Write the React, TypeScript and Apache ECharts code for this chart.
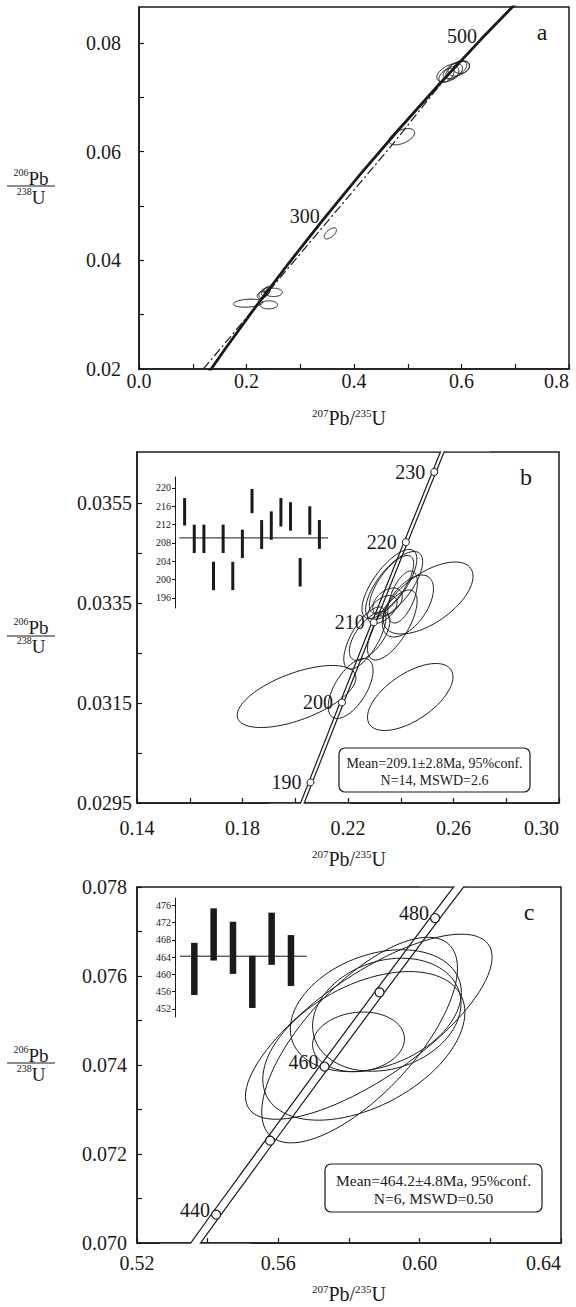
import React, { useEffect, useRef } from "react";
import * as echarts from "echarts";

const SERIF = "Liberation Serif, Times New Roman, Times, serif";
const INK = "#1a1a1a";

// ---------------- Panel a ----------------
const concA_x = [0.103498, 0.159197, 0.217708, 0.279171, 0.343739, 0.411563, 0.48281, 0.557656, 0.63628, 0.718871];
const concA_y = [0.015633, 0.023542, 0.031511, 0.039543, 0.047637, 0.055795, 0.064015, 0.0723, 0.08065, 0.089064];
const refA_x = [0.1196, 0.34, 0.469, 0.57, 0.695];
const refA_y = [0.02, 0.0459, 0.061, 0.0735, 0.0868];
const agesA = ["300", "500"];
const agesA_x = [0.343739, 0.63628];
const agesA_y = [0.047637, 0.08065];
// [x, y, half-width, half-height, correlation]
const ellA = [
  [0.489, 0.06274, 0.0239, 0.0015, 0.5],
  [0.356, 0.04495, 0.0113, 0.00102, 0.6],
  [0.2031, 0.03211, 0.0273, 0.00074, 0.2],
  [0.2414, 0.0318, 0.0165, 0.00074, 0.0],
  [0.2503, 0.0341, 0.0165, 0.00077, 0.0],
  [0.233, 0.034, 0.01, 0.0009, 0.5],
  [0.236, 0.0342, 0.008, 0.0008, 0.4],
  [0.229, 0.0336, 0.009, 0.0007, 0.3],
  [0.238, 0.0345, 0.006, 0.0007, 0.5],
  [0.578, 0.0745, 0.024, 0.0017, 0.5],
  [0.588, 0.075, 0.022, 0.0016, 0.6],
  [0.595, 0.0753, 0.02, 0.0014, 0.4],
  [0.572, 0.074, 0.014, 0.0013, 0.5],
  [0.583, 0.0745, 0.012, 0.0012, 0.3],
  [0.6, 0.0755, 0.015, 0.0011, 0.2],
];
const xTicksA = [0, 0.2, 0.4, 0.6, 0.8];
const xMinorA = [0.1, 0.3, 0.5, 0.7];
const yTicksA = [0.02, 0.04, 0.06, 0.08];
const yMinorA = [0.03, 0.05, 0.07];

// ---------------- Panel b ----------------
const concB_x = [0.193957, 0.205774, 0.21771, 0.229759, 0.24193, 0.254222, 0.266635];
const concB_y = [0.028316, 0.029912, 0.031511, 0.033113, 0.034717, 0.036323, 0.037932];
const markB_age = ["190", "200", "210", "220", "230"];
const markB_x = [0.205774, 0.21771, 0.229759, 0.24193, 0.2527];
const markB_y = [0.029912, 0.031511, 0.033113, 0.034717, 0.03612];
const ellB = [
  [0.2005, 0.03163, 0.0225, 0.00062, 0.6],
  [0.2436, 0.03162, 0.0162, 0.00067, 0.6],
  [0.221, 0.03179, 0.0085, 0.0006, 0.6],
  [0.2504, 0.0336, 0.017, 0.00072, 0.6],
  [0.2357, 0.03388, 0.0104, 0.00069, 0.72],
  [0.2375, 0.03385, 0.0108, 0.00068, 0.7],
  [0.2365, 0.03387, 0.0084, 0.00058, 0.72],
  [0.2264, 0.0328, 0.008, 0.00062, 0.68],
  [0.2282, 0.03284, 0.0077, 0.00049, 0.62],
  [0.2368, 0.03306, 0.0094, 0.0007, 0.68],
  [0.2427, 0.03344, 0.0097, 0.00062, 0.55],
  [0.233, 0.03337, 0.0056, 0.00028, 0.5],
  [0.235, 0.03352, 0.0056, 0.00028, 0.4],
  [0.2407, 0.03362, 0.0056, 0.00052, 0.55],
];
const xTicksB = [0.14, 0.18, 0.22, 0.26, 0.3];
const xMinorB = [0.16, 0.2, 0.24, 0.28];
const yTicksB = [0.0295, 0.0315, 0.0335, 0.0355];
const yMinorB = [0.0305, 0.0325, 0.0345];
const barsB_lo = [211.8, 205.8, 205.8, 197.7, 205.8, 197.7, 204.7, 214.5, 206.7, 208.7, 211.6, 210.7, 198.5, 209.8, 206.7];
const barsB_hi = [217.8, 212.0, 212.0, 203.9, 212.0, 203.9, 210.9, 219.8, 213.0, 214.9, 217.8, 216.9, 204.7, 216.0, 213.0];
const meanB = 209.1;
const insetTicksB = [196, 200, 204, 208, 212, 216, 220];
const textB = ["Mean=209.1±2.8Ma, 95%conf.", "N=14, MSWD=2.6"];

// ---------------- Panel c ----------------
const concC_x = [0.512308, 0.542392, 0.557656, 0.573074, 0.588642, 0.604365, 0.63628];
const concC_y = [0.067322, 0.070638, 0.0723, 0.073965, 0.075633, 0.077302, 0.08065];
const markC_age = ["440", "", "460", "", "480"];
const markC_x = [0.542392, 0.557656, 0.573074, 0.588642, 0.604365];
const markC_y = [0.070638, 0.0723, 0.073965, 0.075633, 0.077302];
const ellC = [
  [0.5856, 0.07486, 0.0349, 0.00208, 0.75],
  [0.583, 0.07456, 0.0277, 0.00231, 0.7],
  [0.5842, 0.07443, 0.0286, 0.00167, 0.45],
  [0.5876, 0.07522, 0.0242, 0.00137, 0.3],
  [0.5907, 0.07513, 0.021, 0.00127, 0.2],
  [0.5827, 0.07452, 0.013, 0.00067, 0.1],
];
const xTicksC = [0.52, 0.56, 0.6, 0.64];
const xMinorC = [0.54, 0.58, 0.62];
const yTicksC = [0.07, 0.072, 0.074, 0.076, 0.078];
const yMinorC = [0.071, 0.073, 0.075, 0.077];
const barsC_lo = [455.2, 463.2, 460.1, 452.2, 462.2, 457.3];
const barsC_hi = [467.3, 475.3, 472.2, 464.3, 474.3, 469.1];
const meanC = 464.2;
const insetTicksC = [452, 456, 460, 464, 468, 472, 476];
const textC = ["Mean=464.2±4.8Ma, 95%conf.", "N=6, MSWD=0.50"];

// ---------------- helpers ----------------
const zip = (xs: number[], ys: number[]) => xs.map((x, i) => [x, ys[i]]);

function renderEllipse(_p: any, api: any) {
  const cx = api.value(0), cy = api.value(1), sx = api.value(2), sy = api.value(3), r = api.value(4);
  const k = Math.sqrt(Math.max(0, 1 - r * r));
  const pts: number[][] = [];
  for (let i = 0; i < 96; i++) {
    const t = (i / 96) * Math.PI * 2;
    pts.push(api.coord([cx + sx * Math.cos(t), cy + sy * (r * Math.cos(t) + k * Math.sin(t))]));
  }
  return { type: "polygon", shape: { points: pts }, style: { fill: "none", stroke: INK, lineWidth: 1 } };
}

const barRenderer = (w: number) => (_p: any, api: any) => {
  const i = api.value(0), lo = api.value(1), hi = api.value(2);
  const top = api.coord([i, hi]);
  const bot = api.coord([i, lo]);
  return { type: "rect", shape: { x: top[0] - w / 2, y: top[1], width: w, height: bot[1] - top[1] }, style: { fill: INK } };
};

function mainAxis(gridIndex: number, min: number, max: number, labels: number[], minors: number[], dec: number, margin: number, isY: boolean) {
  return {
    type: "value",
    gridIndex,
    min,
    max,
    position: isY ? "left" : "bottom",
    axisLine: { show: true, onZero: false, lineStyle: { color: INK, width: 1.5 } },
    axisTick: {
      show: true,
      inside: true,
      length: 5,
      customValues: [...labels, ...minors].sort((a, b) => a - b),
      lineStyle: { color: INK, width: 1.2 },
    },
    axisLabel: {
      show: true,
      customValues: labels,
      margin,
      color: INK,
      fontFamily: SERIF,
      fontSize: 20,
      alignMaxLabel: isY ? undefined : "right",
      formatter: (v: number) => Number(v).toFixed(dec),
    },
    splitLine: { show: false },
  };
}

function insetY(gridIndex: number, min: number, max: number, labels: number[]) {
  return {
    type: "value",
    gridIndex,
    min,
    max,
    position: "left",
    axisLine: { show: true, onZero: false, lineStyle: { color: INK, width: 1 } },
    axisTick: { show: true, inside: false, length: 3, customValues: labels, lineStyle: { color: INK, width: 1 } },
    axisLabel: { show: true, customValues: labels, margin: 4, color: INK, fontFamily: SERIF, fontSize: 10 },
    splitLine: { show: false },
  };
}

const hiddenX = (gridIndex: number, min: number, max: number) => ({ type: "value", gridIndex, min, max, show: false });

function richText(x: number, y: number, text: string, main: number, sup: number) {
  return {
    type: "text",
    x,
    y,
    z: 50,
    style: {
      text,
      align: "center",
      verticalAlign: "middle",
      textAlign: "center",
      textVerticalAlign: "middle",
      fill: INK,
      fontFamily: SERIF,
      fontSize: main,
      rich: {
        s: { fontSize: sup, fontFamily: SERIF, fill: INK, color: INK, verticalAlign: "top", textVerticalAlign: "top" },
        n: { fontSize: main, fontFamily: SERIF, fill: INK, color: INK, lineHeight: main + 2 },
      },
    },
  };
}

function plainText(x: number, y: number, text: string, size: number) {
  return {
    type: "text",
    x,
    y,
    z: 60,
    style: {
      text,
      align: "center",
      verticalAlign: "middle",
      textAlign: "center",
      textVerticalAlign: "middle",
      fill: INK,
      fontFamily: SERIF,
      fontSize: size,
    },
  };
}

function fraction(cx: number, yNum: number, yLine: number, yDen: number) {
  return [
    richText(cx, yNum, "{s|206}{n|Pb}", 19, 10),
    { type: "line", z: 50, shape: { x1: cx - 24, y1: yLine, x2: cx + 24, y2: yLine }, style: { stroke: INK, lineWidth: 1.2 } },
    richText(cx, yDen, "{s|238}{n|U}", 19, 10),
  ];
}

function statBox(x: number, y: number, w: number, h: number, lines: string[], size: number, l1: number, l2: number) {
  return [
    { type: "rect", z: 55, shape: { x, y, width: w, height: h, r: 6 }, style: { fill: "#fff", stroke: INK, lineWidth: 1.2 } },
    plainText(x + w / 2, l1, lines[0], size),
    plainText(x + w / 2, l2, lines[1], size),
  ];
}

// white masks just outside plot frames, hiding the thick band ends
function mask(x: number, y: number, w: number, h: number) {
  return { type: "rect", z: 40, shape: { x, y, width: w, height: h }, style: { fill: "#fff" } };
}

const gridBase = { show: true, borderColor: INK, borderWidth: 1.5, backgroundColor: "transparent", containLabel: false, outerBoundsMode: "none" };

const labelStyle = { color: INK, opacity: 1, fontFamily: SERIF, fontSize: 20, textBorderWidth: 0, textBorderColor: "transparent", textShadowBlur: 0 };

function buildOption() {
  const series: any[] = [];
  // ---- a ----
  series.push({ type: "line", xAxisIndex: 0, yAxisIndex: 0, data: zip(concA_x, concA_y), symbol: "none", lineStyle: { color: INK, width: 2.8 }, z: 3, silent: true, clip: true });
  series.push({ type: "line", xAxisIndex: 0, yAxisIndex: 0, data: zip(refA_x, refA_y), symbol: "none", lineStyle: { color: INK, width: 1.2, type: [9, 3, 2, 3] }, z: 3, silent: true, clip: true });
  series.push({ type: "custom", xAxisIndex: 0, yAxisIndex: 0, data: ellA, renderItem: renderEllipse, z: 4, silent: true });
  series.push({
    type: "scatter", xAxisIndex: 0, yAxisIndex: 0, symbolSize: 0, z: 5, silent: true,
    itemStyle: { opacity: 1, color: INK },
    data: agesA.map((a, i) => ({ name: a, value: [agesA_x[i], agesA_y[i]] })),
    label: { show: true, position: "left", distance: 4, offset: [0, -3], formatter: "{b}", ...labelStyle },
  });
  // ---- b ----
  series.push({ type: "line", xAxisIndex: 1, yAxisIndex: 1, data: zip(concB_x, concB_y), symbol: "none", lineStyle: { color: INK, width: 4.6 }, z: 2, silent: true, clip: true });
  series.push({ type: "line", xAxisIndex: 1, yAxisIndex: 1, data: zip(concB_x, concB_y), symbol: "none", lineStyle: { color: "#fff", width: 2.2 }, z: 3, silent: true, clip: true });
  series.push({ type: "custom", xAxisIndex: 1, yAxisIndex: 1, data: ellB, renderItem: renderEllipse, z: 4, silent: true });
  series.push({
    type: "scatter", xAxisIndex: 1, yAxisIndex: 1, symbol: "circle", symbolSize: 7, z: 6, silent: true,
    itemStyle: { color: "#fff", borderColor: INK, borderWidth: 1, opacity: 1 },
    data: markB_age.map((a, i) => ({ name: a, value: [markB_x[i], markB_y[i]] })),
    label: { show: true, position: "left", distance: 5, formatter: "{b}", ...labelStyle },
  });
  series.push({ type: "custom", xAxisIndex: 3, yAxisIndex: 3, data: barsB_lo.map((lo, i) => [i + 1, lo, barsB_hi[i]]), renderItem: barRenderer(3), z: 4, silent: true });
  series.push({ type: "line", xAxisIndex: 3, yAxisIndex: 3, data: [[0.45, meanB], [15.9, meanB]], symbol: "none", lineStyle: { color: INK, width: 1 }, z: 5, silent: true });
  // ---- c ----
  series.push({ type: "line", xAxisIndex: 2, yAxisIndex: 2, data: zip(concC_x, concC_y), symbol: "none", lineStyle: { color: INK, width: 9.2 }, z: 2, silent: true, clip: true });
  series.push({ type: "line", xAxisIndex: 2, yAxisIndex: 2, data: zip(concC_x, concC_y), symbol: "none", lineStyle: { color: "#fff", width: 6.8 }, z: 3, silent: true, clip: true });
  series.push({ type: "custom", xAxisIndex: 2, yAxisIndex: 2, data: ellC, renderItem: renderEllipse, z: 4, silent: true });
  series.push({
    type: "scatter", xAxisIndex: 2, yAxisIndex: 2, symbol: "circle", symbolSize: 9, z: 6, silent: true,
    itemStyle: { color: "#fff", borderColor: INK, borderWidth: 1.2, opacity: 1 },
    data: markC_age.map((a, i) => ({ name: a, value: [markC_x[i], markC_y[i]] })),
    label: { show: true, position: "left", distance: 1, offset: [0, -5], formatter: "{b}", ...labelStyle },
  });
  series.push({ type: "custom", xAxisIndex: 4, yAxisIndex: 4, data: barsC_lo.map((lo, i) => [i + 1, lo, barsC_hi[i]]), renderItem: barRenderer(6.5), z: 4, silent: true });
  series.push({ type: "line", xAxisIndex: 4, yAxisIndex: 4, data: [[0.26, meanC], [6.81, meanC]], symbol: "none", lineStyle: { color: INK, width: 1 }, z: 5, silent: true });

  const graphic: any[] = [
    mask(400, 438, 90, 13.2),
    mask(270, 803.8, 80, 8),
    mask(420, 872, 100, 14.2),
    mask(160, 1243.8, 90, 8),
    plainText(542, 32, "a", 24),
    plainText(526, 477, "b", 24),
    plainText(529, 912, "c", 24),
    richText(349, 418, "{s|207}{n|Pb/}{s|235}{n|U}", 20, 11),
    richText(349, 859, "{s|207}{n|Pb/}{s|235}{n|U}", 20, 11),
    richText(349, 1294, "{s|207}{n|Pb/}{s|235}{n|U}", 20, 11),
    ...fraction(31, 178, 186, 197),
    ...fraction(31, 627, 636, 646),
    ...fraction(31, 1055, 1063, 1074),
    ...statBox(339, 748, 191, 44, textB, 14, 763, 780),
    ...statBox(325, 1164, 217, 48, textC, 15.5, 1180, 1198),
  ];

  return {
    animation: false,
    backgroundColor: "#fff",
    textStyle: { fontFamily: SERIF, color: INK },
    grid: [
      { ...gridBase, left: 139, top: 7, width: 430, height: 362 },
      { ...gridBase, left: 137, top: 452, width: 422, height: 351 },
      { ...gridBase, left: 137, top: 887, width: 424, height: 356 },
      { ...gridBase, show: false, left: 175, top: 477, width: 155, height: 131 },
      { ...gridBase, show: false, left: 175, top: 898, width: 135.3, height: 119 },
    ],
    xAxis: [
      mainAxis(0, 0, 0.8, xTicksA, xMinorA, 1, 2, false),
      mainAxis(1, 0.14, 0.3, xTicksB, xMinorB, 2, 15, false),
      mainAxis(2, 0.52, 0.64, xTicksC, xMinorC, 2, 10, false),
      hiddenX(3, 0, 16.1),
      hiddenX(4, 0, 7),
    ],
    yAxis: [
      mainAxis(0, 0.02, 0.0866, yTicksA, yMinorA, 2, 18, true),
      mainAxis(1, 0.0295, 0.03652, yTicksB, yMinorB, 4, 5, true),
      mainAxis(2, 0.07, 0.078, yTicksC, yMinorC, 3, 10, true),
      insetY(3, 193.8, 222.4, insetTicksB),
      insetY(4, 450.1, 477.7, insetTicksC),
    ],
    series,
    graphic,
  };
}

export default function App() {
  const ref = useRef<HTMLDivElement>(null);
  useEffect(() => {
    const chart = echarts.init(ref.current as HTMLDivElement, null, { renderer: "svg" });
    chart.setOption(buildOption() as any);
    return () => chart.dispose();
  }, []);
  return (
    <div
      ref={ref}
      style={{ position: "absolute", left: 0, top: 0, width: 576, height: 1307, background: "#fff" }}
    />
  );
}
